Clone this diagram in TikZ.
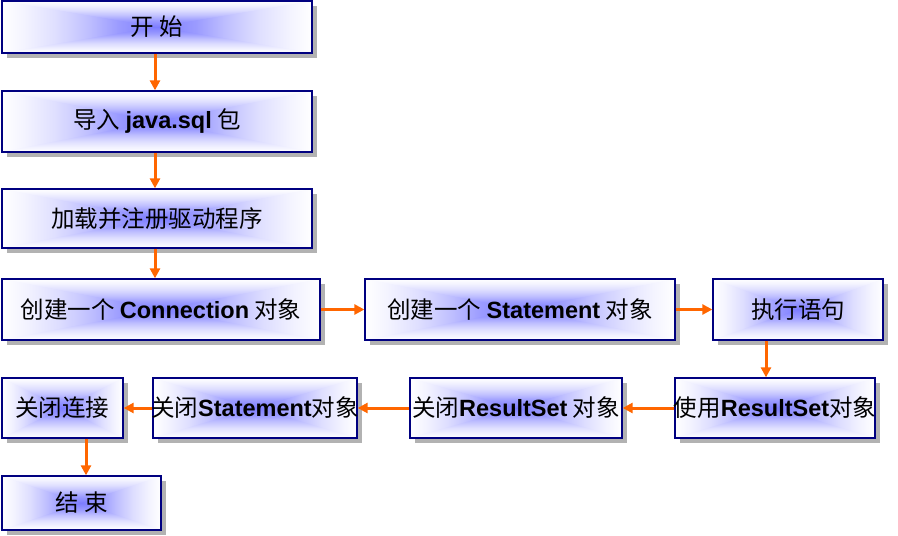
\documentclass[tikz,border=0pt]{standalone}
\usepackage{fontspec}
\setmainfont{Noto Sans CJK SC}
\newfontfamily\latf{Liberation Sans}
\newcommand\B[1]{{\latf\bfseries #1}}
\usetikzlibrary{arrows.meta,shadows}
\definecolor{gc0}{RGB}{125,125,255}
\definecolor{gc1}{RGB}{155,155,255}
\definecolor{gc2}{RGB}{192,192,255}
\definecolor{gc3}{RGB}{222,222,255}
\definecolor{gc4}{RGB}{243,243,255}
\definecolor{navyb}{RGB}{0,0,128}
\definecolor{arr}{RGB}{255,102,0}
\definecolor{shad}{RGB}{178,178,178}
\pgfdeclareverticalshading{rgT}{100bp}{color(0bp)=(gc0); color(25bp)=(gc0); color(37.5bp)=(gc1); color(47.5bp)=(gc2); color(57.5bp)=(gc3); color(67.5bp)=(gc4); color(75bp)=(white); color(100bp)=(white)}
\pgfdeclareverticalshading{rgB}{100bp}{color(0bp)=(white); color(25bp)=(white); color(32.5bp)=(gc4); color(42.5bp)=(gc3); color(52.5bp)=(gc2); color(62.5bp)=(gc1); color(75bp)=(gc0); color(100bp)=(gc0)}
\pgfdeclarehorizontalshading{rgR}{100bp}{color(0bp)=(gc0); color(25bp)=(gc0); color(37.5bp)=(gc1); color(47.5bp)=(gc2); color(57.5bp)=(gc3); color(67.5bp)=(gc4); color(75bp)=(white); color(100bp)=(white)}
\pgfdeclarehorizontalshading{rgL}{100bp}{color(0bp)=(white); color(25bp)=(white); color(32.5bp)=(gc4); color(42.5bp)=(gc3); color(52.5bp)=(gc2); color(62.5bp)=(gc1); color(75bp)=(gc0); color(100bp)=(gc0)}
\newcommand\rectglow{%
  \coordinate (gsw) at (path picture bounding box.south west);
  \coordinate (gne) at (path picture bounding box.north east);
  \coordinate (gnw) at (path picture bounding box.north west);
  \coordinate (gse) at (path picture bounding box.south east);
  \coordinate (gmid) at (path picture bounding box.center);
  \shade[shading=rgL] (gsw) rectangle (gmid|-gne);
  \shade[shading=rgR] (gmid|-gsw) rectangle (gne);
  \begin{scope}
    \clip (gmid) -- (gnw) -- (gne) -- cycle;
    \shade[shading=rgT] (gmid-|gsw) rectangle (gne);
  \end{scope}
  \begin{scope}
    \clip (gmid) -- (gsw) -- (gse) -- cycle;
    \shade[shading=rgB] (gsw) rectangle (gmid-|gne);
  \end{scope}}
\tikzset{
  box/.style={draw=navyb, line width=1.3pt, fill=white, inner sep=0pt,
    path picture={\rectglow},
    drop shadow={shadow xshift=5pt, shadow yshift=-5pt, fill=shad, opacity=1}},
  lbl/.style={inner sep=0pt, font=\fontsize{23.5}{28}\selectfont},
  flow/.style={draw=arr, line width=3pt, -{Triangle[length=10pt,width=10pt]}}
}
\begin{document}
\begin{tikzpicture}[x=1pt,y=-1pt]
\useasboundingbox (0,0) rectangle (898,536);
\node[box, minimum width=310pt, minimum height=52pt] (start) at (157,27) {};
\node[box, minimum width=310pt, minimum height=61pt] (imp) at (157,121.5) {};
\node[box, minimum width=310pt, minimum height=59pt] (load) at (157,218.5) {};
\node[box, minimum width=318pt, minimum height=61pt] (conn) at (161,309.5) {};
\node[box, minimum width=310pt, minimum height=61pt] (stmt) at (520,309.5) {};
\node[box, minimum width=170pt, minimum height=61pt] (exec) at (798,309.5) {};
\node[box, minimum width=200pt, minimum height=60pt] (use) at (775,408) {};
\node[box, minimum width=212pt, minimum height=60pt] (crs) at (516,408) {};
\node[box, minimum width=204pt, minimum height=60pt] (cst) at (255,408) {};
\node[box, minimum width=121pt, minimum height=60pt] (ccon) at (62.5,408) {};
\node[box, minimum width=159pt, minimum height=54pt] (fin) at (81.5,503) {};

\node[lbl] (tstart) at (start) {开 始};
\node[lbl] (timp) at (imp) {导入 \B{java.sql} 包};
\node[lbl] (tload) at (load) {加载并注册驱动程序};
\node[lbl] (tconn) at (conn) {创建一个 \B{Connection} 对象};
\node[lbl] (tstmt) at (stmt) {创建一个 \B{Statement} 对象};
\node[lbl] (texec) at (exec) {执行语句};
\node[lbl] (tuse) at (use) {使用\B{ResultSet}对象};
\node[lbl] (tcrs) at (crs) {关闭\B{ResultSet} 对象};
\node[lbl] (tcst) at (cst) {关闭\B{Statement}对象};
\node[lbl] (tccon) at (ccon) {关闭连接};
\node[lbl] (tfin) at (fin) {结 束};

\draw[flow] ([xshift=-2pt]start.south) -- ([xshift=-2pt]imp.north);
\draw[flow] ([xshift=-2pt]imp.south) -- ([xshift=-2pt]load.north);
\draw[flow] ([xshift=-2pt]load.south) -- ([xshift=-2pt]load.south |- conn.north);
\draw[flow] (conn.east) -- (stmt.west);
\draw[flow] (stmt.east) -- (exec.west);
\draw[flow] ([xshift=-32pt]exec.south) -- ([xshift=-32pt]exec.south |- use.north);
\draw[flow] (use.west) -- (crs.east);
\draw[flow] (crs.west) -- (cst.east);
\draw[flow] (cst.west) -- (ccon.east);
\draw[flow] ([xshift=23.5pt]ccon.south) -- ([xshift=23.5pt]ccon.south |- fin.north);
\end{tikzpicture}
\end{document}
